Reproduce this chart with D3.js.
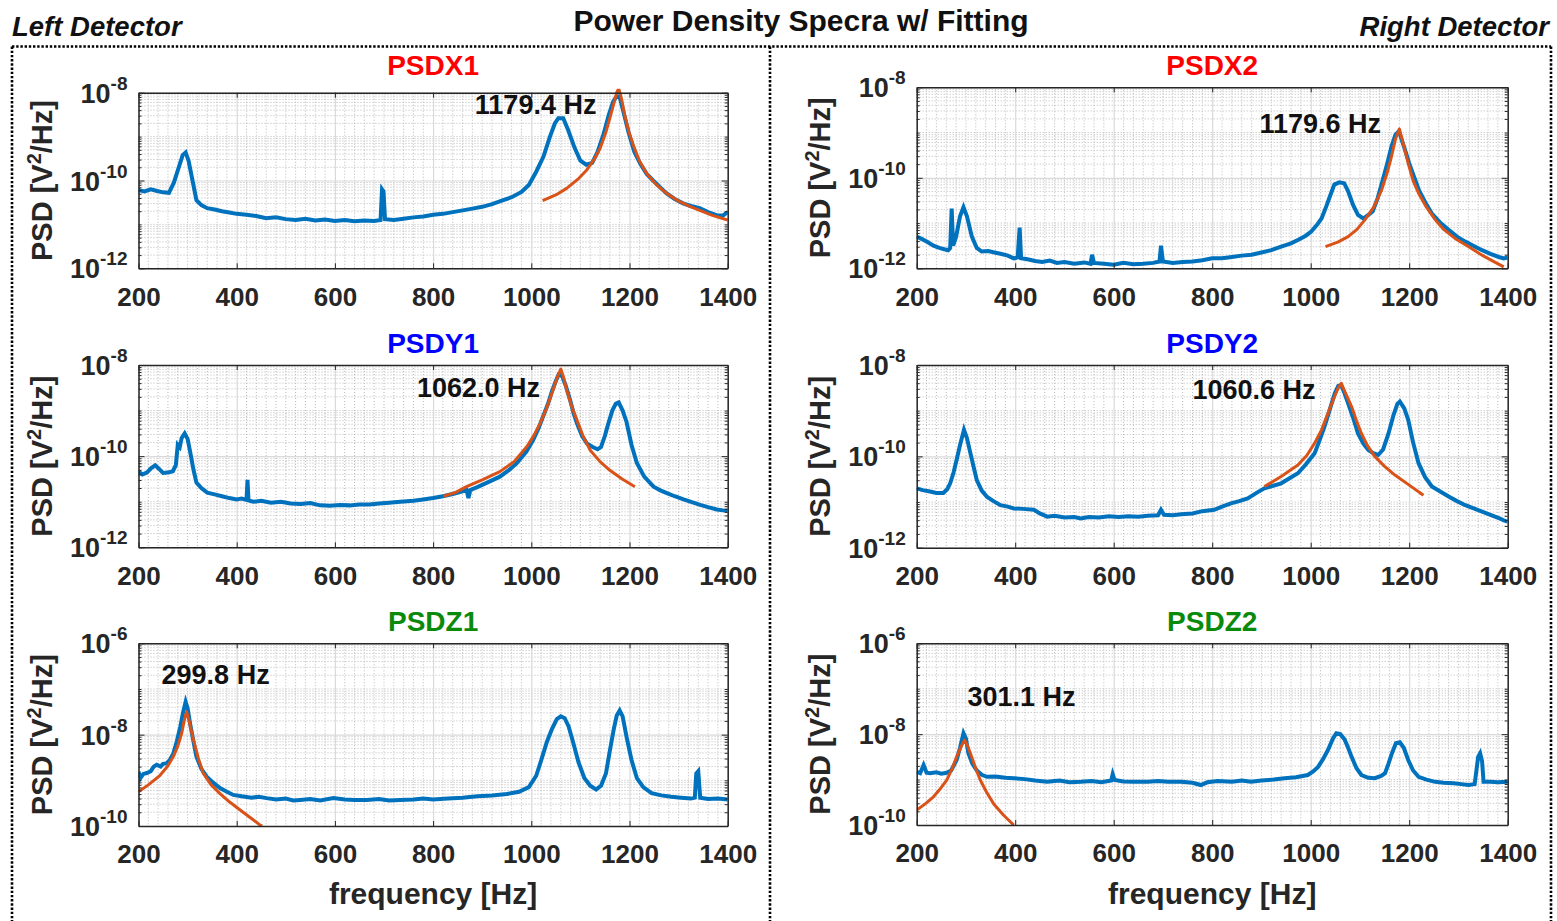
<!DOCTYPE html>
<html>
<head>
<meta charset="utf-8">
<script src="https://cdn.jsdelivr.net/npm/d3@7"></script>
<style>
  body { margin: 0; background: #fff; }
  svg { font-family: "Liberation Sans", Arial, sans-serif; }
</style>
</head>
<body>
<svg id="chart" width="1557" height="921"></svg>
<script>
// ---- data (frequency in Hz, PSD as log10 of V^2/Hz) ----
const xTicks = [200, 400, 600, 800, 1000, 1200, 1400];
const panelNames = ['PSDX1', 'PSDX2', 'PSDY1', 'PSDY2', 'PSDZ1', 'PSDZ2'];
const peakLabels = ['1179.4 Hz', '1179.6 Hz', '1062.0 Hz', '1060.6 Hz', '299.8 Hz', '301.1 Hz'];
// where each peak label starts: [frequency, log10 psd of baseline]
const peakLabelAt = [[885, -8.49], [896, -9.02], [767, -8.70], [760, -8.74], [247, -6.89], [303, -7.38]];
const yDomains = [[1e-12, 1e-8], [1e-12, 1e-8], [1e-12, 1e-8], [1e-12, 1e-8], [1e-10, 1e-6], [1e-10, 1e-6]];
const yTickSets = [[1e-12, 1e-10, 1e-8], [1e-12, 1e-10, 1e-8], [1e-12, 1e-10, 1e-8], [1e-12, 1e-10, 1e-8], [1e-10, 1e-8, 1e-6], [1e-10, 1e-8, 1e-6]];

const psdX1 = [[200,-10.22],[212,-10.25],[225,-10.2],[238,-10.24],[250,-10.27],[262,-10.28],[272,-10.05],[282,-9.7],[290,-9.42],[296,-9.36],[302,-9.55],[310,-10.0],[318,-10.45],[328,-10.56],[340,-10.63],[355,-10.66],[370,-10.7],[385,-10.73],[400,-10.76],[420,-10.78],[440,-10.81],[460,-10.86],[480,-10.84],[500,-10.88],[520,-10.9],[540,-10.87],[560,-10.91],[580,-10.89],[600,-10.92],[620,-10.9],[640,-10.93],[660,-10.91],[680,-10.92],[693,-10.9],[696,-10.2],[699,-10.25],[702,-10.88],[720,-10.9],[740,-10.87],[760,-10.84],[780,-10.82],[800,-10.78],[820,-10.76],[840,-10.72],[860,-10.68],[880,-10.64],[900,-10.6],[920,-10.54],[940,-10.46],[960,-10.38],[980,-10.26],[995,-10.1],[1010,-9.8],[1025,-9.45],[1038,-9.0],[1048,-8.7],[1055,-8.58],[1065,-8.58],[1075,-8.85],[1088,-9.25],[1100,-9.55],[1112,-9.64],[1124,-9.6],[1135,-9.35],[1147,-8.95],[1158,-8.5],[1167,-8.2],[1174,-8.08],[1180,-8.1],[1188,-8.45],[1198,-8.9],[1210,-9.35],[1222,-9.62],[1235,-9.85],[1248,-10.0],[1262,-10.15],[1275,-10.29],[1292,-10.42],[1309,-10.52],[1325,-10.58],[1343,-10.63],[1360,-10.72],[1377,-10.79],[1390,-10.8],[1400,-10.72]];
const fitX1 = [[1023,-10.46],[1050,-10.33],[1072,-10.18],[1095,-9.97],[1113,-9.76],[1128,-9.52],[1140,-9.27],[1152,-8.9],[1160,-8.58],[1168,-8.25],[1174,-8.0],[1178,-7.9],[1184,-8.15],[1190,-8.5],[1199,-8.9],[1208,-9.2],[1220,-9.55],[1235,-9.84],[1255,-10.1],[1275,-10.29],[1300,-10.47],[1325,-10.6],[1343,-10.68],[1370,-10.8],[1400,-10.9]];

const psdX2 = [[200,-11.3],[210,-11.35],[222,-11.42],[234,-11.5],[246,-11.55],[256,-11.58],[264,-11.6],[268,-11.55],[271,-10.68],[274,-11.5],[280,-11.3],[288,-10.85],[295,-10.65],[302,-10.85],[312,-11.3],[322,-11.55],[332,-11.63],[345,-11.62],[358,-11.65],[370,-11.68],[385,-11.72],[397,-11.78],[405,-11.76],[409,-11.1],[412,-11.78],[425,-11.8],[440,-11.84],[455,-11.86],[470,-11.83],[485,-11.88],[500,-11.86],[520,-11.9],[540,-11.87],[553,-11.9],[556,-11.7],[560,-11.88],[580,-11.9],[600,-11.92],[620,-11.88],[640,-11.91],[660,-11.9],[680,-11.88],[693,-11.85],[696,-11.5],[700,-11.85],[720,-11.88],[740,-11.86],[760,-11.85],[780,-11.82],[800,-11.78],[820,-11.78],[840,-11.75],[860,-11.72],[880,-11.7],[900,-11.65],[920,-11.6],[940,-11.52],[960,-11.45],[975,-11.37],[990,-11.28],[1001,-11.19],[1012,-11.05],[1022,-10.9],[1032,-10.62],[1040,-10.38],[1048,-10.15],[1058,-10.1],[1068,-10.12],[1076,-10.3],[1086,-10.6],[1096,-10.82],[1107,-10.9],[1117,-10.82],[1126,-10.74],[1136,-10.45],[1145,-10.1],[1155,-9.7],[1164,-9.31],[1172,-9.05],[1179,-8.97],[1186,-9.2],[1192,-9.4],[1200,-9.68],[1210,-9.98],[1220,-10.28],[1233,-10.55],[1246,-10.79],[1262,-10.98],[1280,-11.15],[1297,-11.3],[1314,-11.41],[1330,-11.5],[1348,-11.6],[1365,-11.68],[1382,-11.75],[1392,-11.78],[1400,-11.76]];
const fitX2 = [[1030,-11.52],[1055,-11.42],[1076,-11.3],[1094,-11.14],[1110,-10.93],[1128,-10.65],[1144,-10.27],[1155,-9.9],[1164,-9.53],[1172,-9.15],[1180,-8.92],[1188,-9.25],[1198,-9.68],[1208,-10.07],[1219,-10.34],[1235,-10.65],[1253,-10.93],[1270,-11.14],[1293,-11.34],[1320,-11.52],[1348,-11.71],[1370,-11.84],[1392,-11.97]];

const psdY1 = [[200,-10.34],[208,-10.4],[217,-10.36],[226,-10.26],[234,-10.2],[242,-10.28],[250,-10.37],[260,-10.36],[270,-10.33],[276,-10.2],[280,-9.75],[284,-9.8],[288,-9.6],[294,-9.5],[300,-9.62],[306,-9.95],[312,-10.3],[318,-10.58],[328,-10.7],[340,-10.8],[355,-10.84],[370,-10.88],[385,-10.92],[400,-10.95],[410,-10.93],[420,-10.96],[422,-10.52],[424,-10.97],[434,-11.0],[450,-10.98],[470,-11.02],[490,-11.0],[510,-11.04],[530,-11.05],[550,-11.03],[570,-11.08],[590,-11.09],[610,-11.07],[630,-11.08],[650,-11.06],[670,-11.06],[690,-11.04],[710,-11.02],[733,-11.0],[760,-10.98],[780,-10.95],[800,-10.92],[820,-10.88],[840,-10.83],[860,-10.77],[868,-10.74],[872,-10.92],[876,-10.74],[890,-10.68],[910,-10.58],[936,-10.45],[955,-10.3],[970,-10.16],[990,-9.9],[1004,-9.64],[1015,-9.38],[1024,-9.13],[1034,-8.85],[1042,-8.58],[1050,-8.35],[1056,-8.2],[1062,-8.22],[1070,-8.45],[1079,-8.77],[1086,-9.05],[1093,-9.28],[1103,-9.55],[1113,-9.72],[1125,-9.8],[1135,-9.85],[1142,-9.8],[1150,-9.55],[1157,-9.28],[1165,-9.0],[1172,-8.85],[1178,-8.82],[1186,-9.0],[1194,-9.25],[1204,-9.75],[1215,-10.15],[1230,-10.45],[1249,-10.67],[1263,-10.75],[1276,-10.81],[1292,-10.88],[1310,-10.95],[1327,-11.01],[1344,-11.07],[1360,-11.12],[1378,-11.17],[1390,-11.19],[1400,-11.2]];
const fitY1 = [[821,-10.88],[845,-10.8],[868,-10.67],[900,-10.52],[936,-10.34],[965,-10.12],[991,-9.79],[1005,-9.55],[1018,-9.28],[1030,-8.98],[1042,-8.62],[1052,-8.3],[1060,-8.09],[1066,-8.28],[1072,-8.55],[1082,-8.9],[1093,-9.21],[1105,-9.55],[1120,-9.87],[1140,-10.12],[1160,-10.31],[1185,-10.5],[1211,-10.67]];

const psdY2 = [[200,-10.7],[212,-10.74],[227,-10.77],[240,-10.8],[254,-10.8],[262,-10.72],[268,-10.59],[275,-10.35],[281,-10.08],[288,-9.75],[296,-9.42],[302,-9.6],[309,-9.93],[316,-10.25],[322,-10.52],[332,-10.75],[343,-10.89],[356,-10.98],[370,-11.07],[385,-11.1],[397,-11.14],[415,-11.15],[438,-11.17],[450,-11.25],[465,-11.32],[480,-11.3],[500,-11.34],[520,-11.33],[533,-11.36],[550,-11.33],[570,-11.34],[590,-11.31],[610,-11.33],[630,-11.31],[650,-11.32],[669,-11.3],[690,-11.29],[696,-11.17],[702,-11.28],[720,-11.29],[737,-11.27],[760,-11.25],[780,-11.2],[804,-11.17],[820,-11.1],[838,-11.03],[855,-10.98],[872,-10.92],[890,-10.8],[906,-10.7],[922,-10.65],[940,-10.59],[957,-10.48],[974,-10.37],[990,-10.18],[1008,-9.93],[1018,-9.65],[1028,-9.35],[1038,-9.0],[1049,-8.62],[1056,-8.46],[1062,-8.44],[1068,-8.6],[1076,-8.84],[1086,-9.15],[1096,-9.5],[1107,-9.72],[1117,-9.86],[1127,-9.93],[1137,-9.97],[1147,-9.85],[1158,-9.5],[1168,-9.1],[1176,-8.85],[1181,-8.8],[1190,-8.95],[1198,-9.2],[1208,-9.7],[1219,-10.15],[1232,-10.45],[1246,-10.66],[1263,-10.77],[1280,-10.88],[1297,-10.98],[1314,-11.07],[1331,-11.14],[1348,-11.21],[1365,-11.28],[1382,-11.35],[1392,-11.4],[1400,-11.43]];
const fitY2 = [[906,-10.66],[940,-10.44],[974,-10.19],[992,-9.98],[1008,-9.71],[1022,-9.42],[1035,-9.06],[1048,-8.7],[1056,-8.5],[1062,-8.4],[1070,-8.6],[1083,-8.91],[1093,-9.22],[1103,-9.5],[1115,-9.76],[1130,-10.0],[1150,-10.22],[1171,-10.41],[1200,-10.63],[1229,-10.85]];

const psdZ1 = [[200,-8.81],[204,-8.95],[210,-8.86],[217,-8.84],[225,-8.8],[231,-8.7],[237,-8.66],[245,-8.7],[250,-8.64],[257,-8.63],[264,-8.55],[271,-8.41],[278,-8.15],[285,-7.83],[291,-7.5],[296,-7.28],[300,-7.42],[305,-7.75],[311,-8.1],[318,-8.48],[328,-8.75],[339,-8.92],[352,-9.05],[366,-9.17],[380,-9.25],[393,-9.32],[410,-9.35],[430,-9.38],[445,-9.36],[461,-9.39],[480,-9.42],[500,-9.4],[515,-9.44],[529,-9.43],[550,-9.41],[570,-9.44],[597,-9.39],[620,-9.42],[640,-9.43],[665,-9.43],[690,-9.41],[710,-9.44],[733,-9.43],[760,-9.42],[780,-9.4],[800,-9.42],[830,-9.4],[860,-9.38],[890,-9.35],[920,-9.33],[950,-9.3],[975,-9.25],[995,-9.15],[1010,-8.9],[1022,-8.5],[1032,-8.15],[1042,-7.88],[1052,-7.66],[1060,-7.6],[1068,-7.64],[1076,-7.82],[1086,-8.2],[1096,-8.6],[1108,-8.95],[1120,-9.12],[1132,-9.2],[1142,-9.12],[1152,-8.85],[1160,-8.35],[1168,-7.88],[1174,-7.58],[1180,-7.47],[1186,-7.6],[1194,-8.05],[1204,-8.55],[1215,-8.95],[1228,-9.15],[1245,-9.28],[1265,-9.33],[1285,-9.36],[1305,-9.38],[1325,-9.4],[1333,-9.38],[1336,-8.85],[1340,-8.8],[1344,-9.38],[1360,-9.41],[1380,-9.4],[1400,-9.42]];
const fitZ1 = [[200,-9.25],[220,-9.1],[244,-8.89],[260,-8.68],[271,-8.48],[280,-8.25],[288,-7.97],[294,-7.65],[298,-7.5],[303,-7.7],[312,-8.12],[322,-8.52],[332,-8.85],[348,-9.1],[366,-9.29],[385,-9.47],[407,-9.65],[428,-9.82],[448,-9.98],[452,-10.0]];

const psdZ2 = [[200,-8.83],[207,-8.86],[214,-8.68],[220,-8.85],[227,-8.86],[240,-8.84],[250,-8.87],[261,-8.85],[270,-8.8],[281,-8.57],[288,-8.3],[295,-7.98],[300,-8.1],[305,-8.42],[313,-8.65],[322,-8.8],[333,-8.9],[343,-8.94],[360,-8.93],[380,-8.96],[397,-8.97],[420,-8.99],[440,-9.02],[465,-9.05],[490,-9.02],[510,-9.06],[533,-9.05],[555,-9.03],[575,-9.06],[595,-9.02],[598,-8.88],[602,-9.01],[620,-9.04],[640,-9.05],[669,-9.05],[690,-9.03],[710,-9.05],[737,-9.05],[760,-9.07],[777,-9.12],[790,-9.06],[811,-9.03],[840,-9.05],[860,-9.02],[879,-9.05],[900,-9.02],[925,-9.0],[947,-8.97],[970,-8.95],[994,-8.9],[1005,-8.82],[1015,-8.72],[1025,-8.55],[1035,-8.35],[1045,-8.1],[1052,-7.98],[1060,-8.0],[1069,-8.12],[1076,-8.3],[1083,-8.5],[1093,-8.75],[1103,-8.9],[1117,-8.96],[1130,-8.97],[1143,-8.92],[1151,-8.86],[1158,-8.65],[1165,-8.42],[1173,-8.2],[1181,-8.18],[1189,-8.3],[1198,-8.57],[1208,-8.8],[1219,-8.94],[1235,-9.0],[1253,-9.05],[1270,-9.07],[1290,-9.08],[1305,-9.1],[1321,-9.12],[1333,-9.1],[1340,-8.5],[1344,-8.42],[1348,-8.6],[1351,-9.05],[1365,-9.05],[1380,-9.06],[1400,-9.05]];
const fitZ2 = [[200,-9.67],[218,-9.53],[234,-9.38],[248,-9.2],[261,-9.01],[272,-8.76],[281,-8.5],[290,-8.28],[297,-8.13],[303,-8.25],[309,-8.42],[318,-8.7],[329,-9.01],[342,-9.28],[356,-9.53],[376,-9.78],[397,-10.0]];

const measured = [psdX1, psdX2, psdY1, psdY2, psdZ1, psdZ2];
const fitted = [fitX1, fitX2, fitY1, fitY2, fitZ1, fitZ2];

// ---- layout ----
const W = 1557, H = 921;
const boxes = [
  { left: 138.5, right: 727.7, top: 92.7, bottom: 268.3 },
  { left: 916.7, right: 1507.7, top: 87.3, bottom: 268.3 },
  { left: 138.5, right: 727.7, top: 365, bottom: 547.3 },
  { left: 916.7, right: 1507.7, top: 365, bottom: 547.7 },
  { left: 138.5, right: 727.7, top: 643.3, bottom: 826 },
  { left: 916.7, right: 1507.7, top: 643.3, bottom: 825 }
];
const titleBaseline = [75, 75, 353, 353, 631, 631];
const titleColors = ['#ff0000', '#ff0000', '#0000ff', '#0000ff', '#0a8a0a', '#0a8a0a'];
const axisColor = '#262626';
const blue = '#0072bd', orange = '#d95319';
const font = '"Liberation Sans", Arial, sans-serif';

const svg = d3.select('#chart');
svg.append('rect').attr('width', W).attr('height', H).attr('fill', '#fff');

// dotted detector frames
const frame = svg.append('g')
  .attr('stroke', '#000')
  .attr('stroke-width', 2.6)
  .attr('stroke-dasharray', '2.4,1.8')
  .attr('fill', 'none');
frame.append('line').attr('x1', 12).attr('x2', 1551).attr('y1', 46.5).attr('y2', 46.5);
[12, 770, 1551].forEach(x => {
  frame.append('line').attr('x1', x).attr('x2', x).attr('y1', 46.5).attr('y2', H + 5);
});

// headers
svg.append('text').attr('x', 12).attr('y', 36)
  .attr('font-size', 27.5).attr('font-weight', 'bold').attr('font-style', 'italic')
  .attr('fill', '#111').text('Left Detector');
svg.append('text').attr('x', 1549).attr('y', 36).attr('text-anchor', 'end')
  .attr('font-size', 27.5).attr('font-weight', 'bold').attr('font-style', 'italic')
  .attr('fill', '#111').text('Right Detector');
svg.append('text').attr('x', 801).attr('y', 31).attr('text-anchor', 'middle')
  .attr('font-size', 30).attr('font-weight', 'bold')
  .attr('fill', '#111').text('Power Density Specra w/ Fitting');

const line = (x, y) => d3.line()
  .x(d => x(d[0]))
  .y(d => y(Math.pow(10, d[1])));

boxes.forEach((b, i) => {
  const w = b.right - b.left, h = b.bottom - b.top;
  const x = d3.scaleLinear().domain([200, 1400]).range([b.left, b.right]);
  const y = d3.scaleLog().domain(yDomains[i]).range([b.bottom, b.top]);
  const g = svg.append('g');
  const majorY = yTickSets[i];
  const minorY = y.ticks().filter(v => !majorY.some(m => Math.abs(m - v) / m < 1e-6));
  const minorX = d3.range(220, 1400, 20).filter(v => v % 200 !== 0);

  // minor grid (dotted)
  const minorGrid = g.append('g').attr('stroke', '#b9b9b9').attr('stroke-width', 1).attr('stroke-dasharray', '1,2');
  minorGrid.selectAll('.mx').data(minorX).join('line')
    .attr('x1', d => x(d)).attr('x2', d => x(d)).attr('y1', b.top).attr('y2', b.bottom);
  minorGrid.selectAll('.my').data(minorY).join('line')
    .attr('x1', b.left).attr('x2', b.right).attr('y1', d => y(d)).attr('y2', d => y(d));

  // major grid (solid, light)
  g.append('g').attr('transform', `translate(0,${b.bottom})`)
    .call(d3.axisBottom(x).tickValues(xTicks).tickSize(-h).tickFormat(''))
    .call(a => a.select('.domain').remove())
    .call(a => a.selectAll('line').attr('stroke', '#dadada').attr('stroke-width', 1.2));
  g.append('g').attr('transform', `translate(${b.left},0)`)
    .call(d3.axisLeft(y).tickValues(majorY).tickSize(-w).tickFormat(''))
    .call(a => a.select('.domain').remove())
    .call(a => a.selectAll('line').attr('stroke', '#dadada').attr('stroke-width', 1.2));

  // data
  const clipId = 'clip' + i;
  svg.append('clipPath').attr('id', clipId).append('rect')
    .attr('x', b.left).attr('y', b.top - 4).attr('width', w).attr('height', h + 4);
  const plot = g.append('g').attr('clip-path', `url(#${clipId})`);
  plot.append('path').datum(measured[i])
    .attr('d', line(x, y)).attr('fill', 'none')
    .attr('stroke', blue).attr('stroke-width', 4).attr('stroke-linejoin', 'miter');
  plot.append('path').datum(fitted[i])
    .attr('d', line(x, y)).attr('fill', 'none')
    .attr('stroke', orange).attr('stroke-width', 3).attr('stroke-linejoin', 'round');

  // axes box + ticks
  const styleAxis = a => a.selectAll('line, path').attr('stroke', axisColor);
  const xb = g.append('g').attr('transform', `translate(0,${b.bottom})`)
    .call(d3.axisBottom(x).tickValues(xTicks).tickSize(-5).tickPadding(19).tickSizeOuter(0).tickFormat(d => String(d)))
    .call(styleAxis);
  xb.select('.domain').attr('stroke-width', 1.5);
  xb.selectAll('text').attr('font-size', 26).attr('font-weight', 'bold').attr('fill', axisColor)
    .attr('font-family', font);
  g.append('g').attr('transform', `translate(0,${b.top})`)
    .call(d3.axisTop(x).tickValues(xTicks).tickSize(-5).tickFormat('').tickSizeOuter(0))
    .call(styleAxis).select('.domain').attr('stroke-width', 1.5);

  const yl = g.append('g').attr('transform', `translate(${b.left},0)`)
    .call(d3.axisLeft(y).tickValues(majorY).tickSize(-6).tickPadding(11).tickSizeOuter(0))
    .call(styleAxis);
  yl.select('.domain').attr('stroke-width', 1.5);
  yl.selectAll('text')
    .attr('font-family', font)
    .attr('font-weight', 'bold').attr('fill', axisColor).attr('dy', null)
    .each(function (d) {
      const t = d3.select(this).text('').attr('y', 9.5);
      t.append('tspan').attr('font-size', 27).text('10');
      t.append('tspan').attr('font-size', 19).attr('dy', -13).text(String(Math.round(Math.log10(d))));
    });
  g.append('g').attr('transform', `translate(${b.left},0)`)
    .call(d3.axisLeft(y).tickValues(minorY).tickSize(-3).tickFormat('').tickSizeOuter(0))
    .call(styleAxis).select('.domain').remove();
  g.append('g').attr('transform', `translate(${b.right},0)`)
    .call(d3.axisRight(y).tickValues(majorY).tickSize(-6).tickFormat('').tickSizeOuter(0))
    .call(styleAxis).select('.domain').attr('stroke-width', 1.5);
  g.append('g').attr('transform', `translate(${b.right},0)`)
    .call(d3.axisRight(y).tickValues(minorY).tickSize(-3).tickFormat('').tickSizeOuter(0))
    .call(styleAxis).select('.domain').remove();

  // y label
  const cy = (b.top + b.bottom) / 2;
  const lab = svg.append('text')
    .attr('transform', `translate(${b.left - 87},${cy}) rotate(-90)`)
    .attr('text-anchor', 'middle').attr('font-size', 29).attr('font-weight', 'bold')
    .attr('fill', axisColor);
  lab.append('tspan').text('PSD [V');
  lab.append('tspan').attr('font-size', 20).attr('dy', -11).text('2');
  lab.append('tspan').attr('dy', 11).text('/Hz]');

  // panel title
  svg.append('text').attr('x', (b.left + b.right) / 2).attr('y', titleBaseline[i])
    .attr('text-anchor', 'middle').attr('font-size', 28).attr('font-weight', 'bold')
    .attr('fill', titleColors[i]).text(panelNames[i]);

  // peak label
  svg.append('text').attr('x', x(peakLabelAt[i][0])).attr('y', y(Math.pow(10, peakLabelAt[i][1])))
    .attr('font-size', 27).attr('font-weight', 'bold').attr('fill', '#111')
    .text(peakLabels[i]);

  // x label under bottom row
  if (i >= 4) {
    svg.append('text').attr('x', (b.left + b.right) / 2).attr('y', 904)
      .attr('text-anchor', 'middle').attr('font-size', 30).attr('font-weight', 'bold')
      .attr('fill', axisColor).text('frequency [Hz]');
  }
});
</script>
</body>
</html>
